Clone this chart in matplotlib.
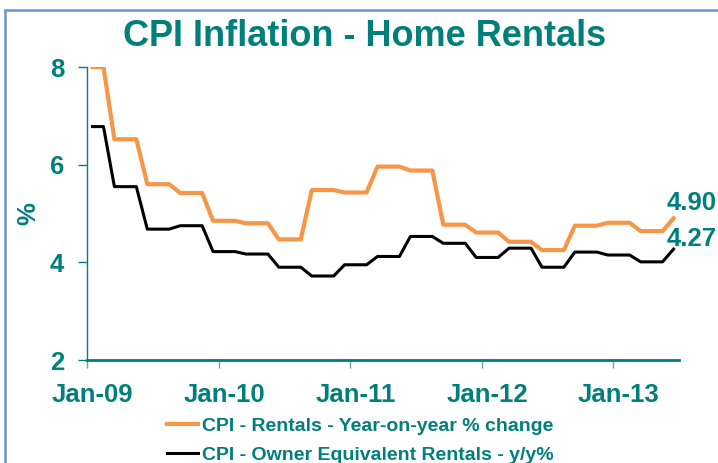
import matplotlib.pyplot as plt
from matplotlib.lines import Line2D

plt.rcParams['font.family'] = ['Liberation Sans', 'DejaVu Sans']

# monthly values Jan-09 .. Jun-13
rentals = [8.0, 8.0, 6.52, 6.52, 6.52, 5.60, 5.60, 5.60, 5.42, 5.42, 5.42,
           4.85, 4.85, 4.85, 4.80, 4.80, 4.80, 4.47, 4.47, 4.47, 5.48, 5.48,
           5.48, 5.43, 5.43, 5.43, 5.96, 5.96, 5.96, 5.88, 5.88, 5.88, 4.77,
           4.77, 4.77, 4.61, 4.61, 4.61, 4.42, 4.42, 4.42, 4.25, 4.25, 4.25,
           4.75, 4.75, 4.75, 4.81, 4.81, 4.81, 4.64, 4.64, 4.64, 4.90]
oer = [6.78, 6.78, 5.55, 5.55, 5.55, 4.68, 4.68, 4.68, 4.75, 4.75, 4.75,
       4.22, 4.22, 4.22, 4.17, 4.17, 4.17, 3.90, 3.90, 3.90, 3.72, 3.72,
       3.72, 3.95, 3.95, 3.95, 4.12, 4.12, 4.12, 4.53, 4.53, 4.53, 4.39,
       4.39, 4.39, 4.10, 4.10, 4.10, 4.29, 4.29, 4.29, 3.90, 3.90, 3.90,
       4.21, 4.21, 4.21, 4.15, 4.15, 4.15, 4.01, 4.01, 4.01, 4.27]
year_labels = ['Jan-09', 'Jan-10', 'Jan-11', 'Jan-12', 'Jan-13']
y_ticks = [2, 4, 6, 8]

TEAL = '#007F7B'
ORANGE = '#F79646'
W, H = 718, 463

fig = plt.figure(figsize=(7.18, 4.63), dpi=100)

# outer frame lines (blue) at top and left
fig.add_artist(Line2D([5 / W, 1], [1 - 10 / H, 1 - 10 / H], color='#6A97D2', lw=1.8))
fig.add_artist(Line2D([5 / W, 5 / W], [0, 1 - 10 / H], color='#6A97D2', lw=1.8))

ax = fig.add_axes([87 / W, 103 / H, 592 / W, 293 / H])
x = [i + 0.5 for i in range(len(rentals))]
ax.plot(x, rentals, color=ORANGE, lw=3.0, zorder=3)
ax.plot(x, oer, color='black', lw=2.2, zorder=3)

ax.set_xlim(0, len(rentals))
ax.set_ylim(2, 8)
ax.set_yticks(y_ticks)
# tick marks at category boundaries, labels centred on the January point
ax.set_xticks([12 * i for i in range(len(year_labels))])
ax.set_xticklabels([])
ax.set_xticks([12 * i + 0.5 for i in range(len(year_labels))], minor=True)
ax.set_xticklabels(year_labels, minor=True)

for s in ['top', 'right']:
    ax.spines[s].set_visible(False)
ax.spines['left'].set_color(TEAL)
ax.spines['left'].set_linewidth(1.0)
ax.spines['bottom'].set_color(TEAL)
ax.spines['bottom'].set_linewidth(2.0)

ax.tick_params(axis='y', colors=TEAL, length=6.5, width=1, pad=10, labelsize=18.5)
ax.tick_params(axis='x', which='major', colors='#5FAAA6', length=6, width=1)
ax.tick_params(axis='x', which='minor', length=0, pad=16.5, labelsize=18.5,
               labelcolor=TEAL)
for lab in ax.get_xticklabels(minor=True) + ax.get_yticklabels():
    lab.set_color(TEAL)
    lab.set_fontweight('bold')

fig.text(28 / W, 1 - 214 / H, '%', color=TEAL, fontsize=18.5, fontweight='bold',
         rotation=90, ha='center', va='center')

ax.text(52.9, rentals[-1] + 0.32, f'{rentals[-1]:.2f}', color=TEAL,
        fontsize=18.5, fontweight='bold', ha='left', va='center', clip_on=False)
ax.text(52.9, oer[-1] + 0.21, f'{oer[-1]:.2f}', color=TEAL,
        fontsize=18.5, fontweight='bold', ha='left', va='center', clip_on=False)

fig.text(365 / W, 1 - 37 / H, 'CPI Inflation - Home Rentals', color=TEAL,
         fontsize=26, fontweight='bold', ha='center', va='center')

handles = [Line2D([], [], color=ORANGE, lw=3),
           Line2D([], [], color='black', lw=2.2)]
leg = fig.legend(handles, ['CPI - Rentals - Year-on-year % change',
                           'CPI - Owner Equivalent Rentals - y/y%'],
                 loc='upper left', bbox_to_anchor=(167 / W, 1 - 417 / H),
                 frameon=False, handlelength=1.6, handletextpad=0.2,
                 labelspacing=0.6, borderaxespad=0, borderpad=0,
                 prop={'size': 14, 'weight': 'bold'})
for t in leg.get_texts():
    t.set_color(TEAL)

fig.savefig('out.png', dpi=100)
